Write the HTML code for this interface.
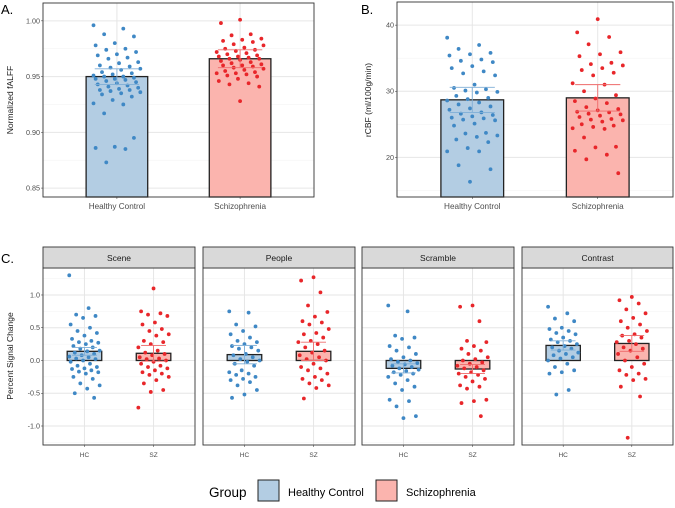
<!DOCTYPE html>
<html><head><meta charset="utf-8"><style>
body{margin:0;background:#fff;width:675px;height:503px;overflow:hidden;font-family:"Liberation Sans",sans-serif}
svg text{font-family:"Liberation Sans",sans-serif}
</style></head><body>
<svg id="c" width="675" height="503" viewBox="0 0 675 503"></svg>
<script>
const groups=["Healthy Control","Schizophrenia"];
const shortGroups=["HC","SZ"];
const facets=["Scene","People","Scramble","Contrast"];
const falffTicks=[0.85,0.90,0.95,1.00];
const cbfTicks=[20,30,40];
const pscTicks=[-1.0,-0.5,0.0,0.5,1.0];
const falffMeans=[0.950,0.966];
const falffSE=[0.007,0.008];
const cbfMeans=[28.7,29.0];
const cbfSE=[1.9,2.0];
const falffHC=[0.996,0.993,0.988,0.986,0.980,0.978,0.975,0.974,0.972,0.970,0.969,0.967,0.966,0.963,0.962,0.960,0.959,0.958,0.957,0.956,0.954,0.953,0.952,0.951,0.950,0.950,0.949,0.948,0.948,0.947,0.946,0.945,0.944,0.943,0.942,0.941,0.940,0.939,0.938,0.938,0.937,0.936,0.935,0.934,0.932,0.929,0.926,0.925,0.917,0.895,0.887,0.886,0.885,0.873];
const falffSZ=[1.001,0.998,0.988,0.987,0.984,0.983,0.982,0.981,0.979,0.978,0.976,0.975,0.974,0.973,0.972,0.971,0.970,0.969,0.968,0.968,0.967,0.966,0.966,0.965,0.964,0.963,0.962,0.961,0.960,0.960,0.959,0.958,0.957,0.956,0.955,0.954,0.953,0.953,0.952,0.951,0.950,0.948,0.946,0.944,0.943,0.941,0.928];
const cbfHC=[38.1,37,36.4,35.8,35.6,35.4,34.8,34.6,34.4,33.8,33.5,33,32.7,32.4,31,30.5,30.3,30.1,29.9,29.8,29.3,29,28.8,28.6,28.3,28,27.7,27.4,27.2,26.8,26.6,26.4,26.2,26,25.9,25.7,25.6,25.1,24.8,23.7,23.6,23.3,23.1,22.7,22.3,21.4,20.9,20.9,18.8,18.2,16.3];
const cbfSZ=[40.9,38.9,38.2,37.1,35.9,35.6,35.3,34.3,34.1,33.9,33.5,33.2,32.8,32.4,31.2,31,30,29.4,28.9,28.5,28.2,27.6,27.3,27.1,26.9,26.8,26.6,26.5,26.3,26.1,25.8,25.7,25.6,25.4,25,24.8,24.6,24.4,24.3,23,21.6,21.5,21,20.4,19.7,17.6];
const pscMeans=[[0.14,0.11],[0.09,0.14],[-0.12,-0.13],[0.23,0.26]];
const pscSE=[[0.06,0.12],[0.14,0.14],[0.07,0.07],[0.07,0.12]];
const sceneHC=[1.3,0.8,0.7,0.68,0.65,0.55,0.5,0.45,0.42,0.38,0.33,0.3,0.28,0.27,0.25,0.22,0.2,0.18,0.15,0.14,0.12,0.1,0.08,0.06,0.05,0.03,0.02,0,-0.02,-0.05,-0.08,-0.1,-0.12,-0.13,-0.15,-0.17,-0.18,-0.2,-0.25,-0.28,-0.35,-0.38,-0.43,-0.5,-0.57];
const sceneSZ=[1.1,0.75,0.72,0.7,0.68,0.58,0.55,0.48,0.45,0.4,0.38,0.3,0.28,0.25,0.2,0.15,0.12,0.1,0.08,0.05,0.03,0.02,0,-0.02,-0.05,-0.08,-0.1,-0.12,-0.15,-0.18,-0.2,-0.22,-0.25,-0.3,-0.35,-0.45,-0.48,-0.72];
const peopleHC=[0.75,0.73,0.55,0.52,0.45,0.4,0.35,0.3,0.28,0.25,0.22,0.2,0.18,0.15,0.1,0.08,0.05,0.02,0,-0.02,-0.05,-0.08,-0.15,-0.18,-0.2,-0.22,-0.25,-0.28,-0.3,-0.33,-0.38,-0.45,-0.52,-0.57];
const peopleSZ=[1.27,1.22,1.04,0.84,0.74,0.67,0.6,0.58,0.55,0.48,0.42,0.4,0.35,0.3,0.28,0.25,0.2,0.15,0.12,0.08,0.05,0.02,0,-0.05,-0.1,-0.12,-0.15,-0.2,-0.25,-0.28,-0.3,-0.35,-0.38,-0.42,-0.58];
const scrambleHC=[0.84,0.75,0.38,0.35,0.33,0.22,0.2,0.15,0.1,0.05,0.02,0,-0.02,-0.04,-0.06,-0.08,-0.1,-0.12,-0.14,-0.16,-0.18,-0.2,-0.22,-0.25,-0.3,-0.35,-0.4,-0.45,-0.6,-0.62,-0.7,-0.85,-0.88];
const scrambleSZ=[0.84,0.82,0.6,0.3,0.28,0.22,0.18,0.15,0.1,0.05,0.02,0,-0.03,-0.05,-0.08,-0.1,-0.12,-0.15,-0.18,-0.2,-0.22,-0.25,-0.28,-0.32,-0.38,-0.4,-0.43,-0.6,-0.62,-0.65,-0.85];
const contrastHC=[0.82,0.72,0.64,0.6,0.5,0.48,0.45,0.42,0.4,0.35,0.32,0.3,0.28,0.25,0.22,0.2,0.18,0.15,0.12,0.1,0.08,0.05,0.03,0,-0.05,-0.1,-0.15,-0.18,-0.2,-0.45,-0.52];
const contrastSZ=[0.97,0.92,0.87,0.78,0.72,0.65,0.6,0.55,0.5,0.45,0.4,0.38,0.35,0.3,0.28,0.25,0.2,0.18,0.15,0.1,0.05,0,-0.05,-0.1,-0.15,-0.2,-0.22,-0.28,-0.3,-0.4,-0.55,-1.18];
const pscPoints=[[sceneHC,sceneSZ],[peopleHC,peopleSZ],[scrambleHC,scrambleSZ],[contrastHC,contrastSZ]];

const NS="http://www.w3.org/2000/svg";
const svg=document.getElementById("c");
const FILL=["#B3CDE3","#FBB4AE"],PT=["#3F88C5","#E8262A"],ERR=["#7FAED6","#EE6A6A"];
function mk(tag,at,parent){const e=document.createElementNS(NS,tag);for(const k in at)e.setAttribute(k,at[k]);(parent||svg).appendChild(e);return e;}
function txt(s,at,parent){const e=mk("text",at,parent);e.textContent=s;return e;}

function panel(o){
  const g=mk("g",{});
  
  
  const {x0,x1,y0,y1,dmin,dmax}=o;
  const ys=v=>y1-(v-dmin)/(dmax-dmin)*(y1-y0);
  const unit=(x1-x0)/2.2;
  const xs=i=>x0+unit*(0.6+i);
  for(let i=0;i<o.ticks.length+1;i++){
    const step=o.ticks[1]-o.ticks[0];
    const v=o.ticks[0]-step/2+i*step;
    if(v>dmin&&v<dmax)mk("line",{x1:x0,x2:x1,y1:ys(v),y2:ys(v),stroke:"#f3f3f3","stroke-width":0.6},g);
  }
  o.ticks.forEach(t=>{
    mk("line",{x1:x0,x2:x1,y1:ys(t),y2:ys(t),stroke:"#e6e6e6","stroke-width":1},g);
    if(o.showY){
      const l=txt(o.fmt(t),{x:x0-3,y:ys(t)+2.5,"text-anchor":"end","font-size":7.2,fill:"#4d4d4d"});
      
      
      mk("line",{x1:x0-2,x2:x0,y1:ys(t),y2:ys(t),stroke:"#333","stroke-width":0.5});
    }
  });
  [0,1].forEach(i=>{
    mk("line",{x1:xs(i),x2:xs(i),y1:y0,y2:y1,stroke:"#e6e6e6","stroke-width":1},g);
    const l=txt(o.cats[i],{x:xs(i),y:y1+12,"text-anchor":"middle","font-size":o.small?6.5:8.2,fill:"#4d4d4d"});
    
    
    mk("line",{x1:xs(i),x2:xs(i),y1:y1,y2:y1+2,stroke:"#333","stroke-width":0.5});
  });
  [0,1].forEach(i=>{
    const m=o.means[i],bw=unit*0.25;
    const base=dmin<0?0:dmin;
    const b=mk("rect",{x:xs(i)-bw,width:bw*2,y:Math.min(ys(m),ys(base)),height:Math.abs(ys(m)-ys(base)),fill:FILL[i],stroke:"#222","stroke-width":1.3},g);
    
    
    o.pts[i].forEach((v,k)=>{
      const jit=(((k*37+i*11)%23)/22-0.5)*2*o.jit*unit;
      const p=mk("circle",{cx:xs(i)+jit,cy:ys(v),r:1.9,fill:PT[i]},g);
      
      
    });
    const se=o.se[i],ew=unit*0.18;
    const e=mk("path",{d:`M${xs(i)-ew},${ys(m+se)}H${xs(i)+ew}M${xs(i)},${ys(m+se)}V${ys(m-se)}M${xs(i)-ew},${ys(m-se)}H${xs(i)+ew}`,stroke:ERR[i],"stroke-width":0.9,fill:"none"},g);
    
    
  });
  mk("rect",{x:x0,y:y0,width:x1-x0,height:y1-y0,fill:"none",stroke:"#333","stroke-width":0.9},g);
  return g;
}
panel({name:"panel-a-falff",x0:43,x1:314,y0:3,y1:197,dmin:0.842,dmax:1.016,ticks:falffTicks,fmt:v=>v.toFixed(2),showY:true,cats:groups,means:falffMeans,se:falffSE,pts:[falffHC,falffSZ],jit:0.19});
panel({name:"panel-b-rcbf",x0:397,x1:673,y0:2,y1:197,dmin:14.0,dmax:43.5,ticks:cbfTicks,fmt:v=>String(v),showY:true,cats:groups,means:cbfMeans,se:cbfSE,pts:[cbfHC,cbfSZ],jit:0.2});
const fx=[[43,195],[203,355],[362,514],[522,673]];
facets.forEach((f,j)=>{
  panel({name:"panel-c-"+f.toLowerCase(),x0:fx[j][0],x1:fx[j][1],y0:268,y1:445,dmin:-1.29,dmax:1.412,ticks:pscTicks,fmt:v=>v.toFixed(1),showY:j==0,cats:shortGroups,means:pscMeans[j],se:pscSE[j],pts:pscPoints[j],jit:0.22,small:true});
  const s=mk("rect",{x:fx[j][0],y:247,width:fx[j][1]-fx[j][0],height:21,fill:"#d9d9d9",stroke:"#333","stroke-width":0.9});
  
  
  const t=txt(f,{x:(fx[j][0]+fx[j][1])/2,y:261,"text-anchor":"middle","font-size":8.5,fill:"#1a1a1a"});
  
  
});
function lab(s,at,name){const t=txt(s,at);}
lab("A.",{x:1,y:14,"font-size":13,fill:"#000"},"panel-a-label");
lab("B.",{x:361,y:14,"font-size":13,fill:"#000"},"panel-b-label");
lab("C.",{x:1,y:263,"font-size":13,fill:"#000"},"panel-c-label");
lab("Normalized fALFF",{transform:"translate(13,100) rotate(-90)","text-anchor":"middle","font-size":8.5,fill:"#1a1a1a"},"y-axis-title-a");
lab("rCBF (ml/100g/min)",{transform:"translate(371,100) rotate(-90)","text-anchor":"middle","font-size":8.5,fill:"#1a1a1a"},"y-axis-title-b");
lab("Percent Signal Change",{transform:"translate(13,356) rotate(-90)","text-anchor":"middle","font-size":8.5,fill:"#1a1a1a"},"y-axis-title-c");
lab("Group",{x:209,y:497,"font-size":13.5,fill:"#000"},"legend-title");
const lg=[[258,"Healthy Control",288],[376,"Schizophrenia",406]];
lg.forEach((l,i)=>{
  const r=mk("rect",{x:l[0],y:480,width:21,height:21,fill:FILL[i],stroke:"#222","stroke-width":1});
  
  
  lab(l[1],{x:l[2],y:496,"font-size":11,fill:"#000"},"legend-entry");
});
</script>
</body></html>
